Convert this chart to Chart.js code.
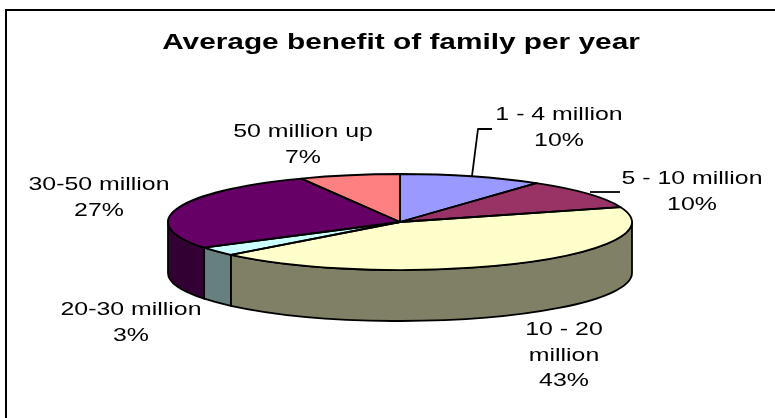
<!DOCTYPE html>
<html>
<head>
<meta charset="utf-8">
<style>
  html, body { margin: 0; padding: 0; background: #fff; }
  canvas { display: block; }
</style>
<script src="https://cdn.jsdelivr.net/npm/chart.js@4"></script>
</head>
<body>
<canvas id="pie" width="775" height="418"></canvas>
<script>
// Household income bands and their share of families, in percent.
const categories = ['1 - 4 million', '5 - 10 million', '10 - 20 million', '20-30 million', '30-50 million', '50 million up'];
const shares = [10, 10, 43, 3, 27, 7];
const topColors = ['#9999FF', '#993366', '#FFFFCC', '#CCFFFF', '#660066', '#FF8080'];
const sideColors = ['#4D4D80', '#4D1A33', '#808066', '#668080', '#330033', '#804040'];
const chartTitle = 'Average benefit of family per year';

// Tilted-disc geometry: vertical squash of the pie and height of its rim.
const SQUASH = 48 / 232;
const RIM = 51;
const FONT_STRETCH = 1.31;
const PEN = 1.8;

// Label text lines and anchor points, in the same order as the categories.
const labelLines = [
  ['1 - 4 million', '10%'],
  ['5 - 10 million', '10%'],
  ['10 - 20', 'million', '43%'],
  ['20-30 million', '3%'],
  ['30-50 million', '27%'],
  ['50 million up', '7%']
];
const labelAnchors = [[559, 115], [692, 179], [564, 330], [131, 310], [99, 185], [303, 132]];
const leaderLines = [
  [[472, 176], [478, 129], [492, 129]],
  [[590, 192], [620, 192]]
];

// Text widened horizontally, centred on x.
function wideText(ctx, text, x, y, font, stretch) {
  ctx.save();
  ctx.translate(x, y);
  ctx.scale(stretch, 1);
  ctx.font = font;
  ctx.textAlign = 'center';
  ctx.textBaseline = 'middle';
  ctx.fillStyle = '#000';
  ctx.fillText(text, 0, 0);
  ctx.restore();
}

// Draws the rim under the pie, squashes the pie itself, then outlines and annotates it.
const tiltedPie = {
  id: 'tiltedPie',
  beforeDraw(chart) {
    const ctx = chart.ctx;
    ctx.save();
    ctx.fillStyle = '#fff';
    ctx.fillRect(0, 0, chart.width, chart.height);
    // Frame: only the top and left sides fall inside the canvas.
    ctx.strokeStyle = '#000';
    ctx.lineWidth = 2;
    ctx.beginPath();
    ctx.moveTo(6, chart.height);
    ctx.lineTo(6, 10);
    ctx.lineTo(chart.width, 10);
    ctx.stroke();
    ctx.restore();
  },
  beforeDatasetsDraw(chart) {
    const ctx = chart.ctx;
    const arcs = chart.getDatasetMeta(0).data;
    const { x, y, outerRadius: r } = arcs[0];
    const ry = r * SQUASH;

    ctx.save();
    ctx.lineWidth = PEN;
    ctx.strokeStyle = '#000';
    ctx.lineJoin = 'round';
    arcs.forEach((arc, i) => {
      const norm = a => {
        const t = 2 * Math.PI;
        return ((a % t) + t) % t;
      };
      let start = norm(arc.startAngle);
      const end = start + (arc.endAngle - arc.startAngle);
      // Only the part of the slice facing the viewer has a visible rim.
      const ranges = [[start, end], [start - 2 * Math.PI, end - 2 * Math.PI]];
      ranges.forEach(([a, b]) => {
        const from = Math.max(a, 0);
        const to = Math.min(b, Math.PI);
        if (to <= from) return;
        ctx.beginPath();
        ctx.ellipse(x, y, r, ry, 0, from, to);
        ctx.ellipse(x, y + RIM, r, ry, 0, to, from, true);
        ctx.closePath();
        ctx.fillStyle = sideColors[i];
        ctx.fill();
        ctx.stroke();
      });
    });
    ctx.restore();

    ctx.save();
    ctx.translate(x, y);
    ctx.scale(1, SQUASH);
    ctx.translate(-x, -y);
  },
  afterDatasetsDraw(chart) {
    const ctx = chart.ctx;
    ctx.restore();
    const arcs = chart.getDatasetMeta(0).data;
    const { x, y, outerRadius: r } = arcs[0];
    const ry = r * SQUASH;

    // Slice outlines are stroked after unsquashing so the pen width stays even.
    ctx.save();
    ctx.lineWidth = PEN;
    ctx.strokeStyle = '#000';
    ctx.lineJoin = 'round';
    arcs.forEach(arc => {
      ctx.beginPath();
      ctx.moveTo(x, y);
      ctx.ellipse(x, y, r, ry, 0, arc.startAngle, arc.endAngle);
      ctx.closePath();
      ctx.stroke();
    });

    leaderLines.forEach(points => {
      ctx.beginPath();
      points.forEach(([px, py], k) => (k ? ctx.lineTo(px, py) : ctx.moveTo(px, py)));
      ctx.stroke();
    });
    ctx.restore();

    wideText(ctx, chartTitle, 401, 43, 'bold 22px "Liberation Sans"', 1.355);
    labelLines.forEach((lines, i) => {
      const [ax, ay] = labelAnchors[i];
      lines.forEach((line, k) => {
        wideText(ctx, line, ax, ay + k * 25.5, '19px "Liberation Sans"', FONT_STRETCH);
      });
    });
  }
};

new Chart(document.getElementById('pie'), {
  type: 'pie',
  data: {
    labels: categories,
    datasets: [{
      data: shares,
      backgroundColor: topColors,
      borderWidth: 0,
      clip: false
    }]
  },
  options: {
    responsive: false,
    animation: false,
    radius: 232,
    layout: { padding: { left: 25, top: 26 } },
    plugins: {
      legend: { display: false },
      tooltip: { enabled: false },
      title: { display: false }
    }
  },
  plugins: [tiltedPie]
});
</script>
</body>
</html>
